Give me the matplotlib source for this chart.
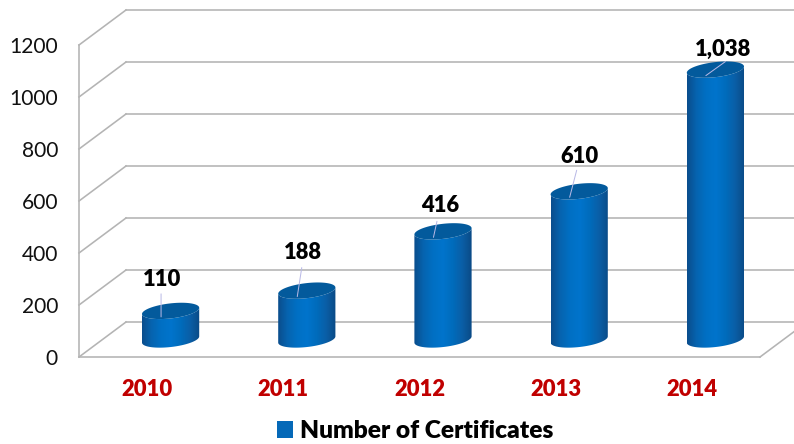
import numpy as np
import matplotlib
matplotlib.use('Agg')
import matplotlib.pyplot as plt
from matplotlib.patches import Patch, Polygon
from matplotlib.colors import LinearSegmentedColormap

# datos del grafico
years = ['2010', '2011', '2012', '2013', '2014']
# altura dibujada de cada cilindro (la de 2013 queda por debajo de su etiqueta en el original)
bar_heights = [110, 188, 416, 570, 1038]
value_labels = ['110', '188', '416', '610', '1,038']
y_ticks = [0, 200, 400, 600, 800, 1000, 1200]

# offsets a mano (px)
label_offsets = [(-8, 31), (-4, 38), (-3, 26), (0, 35), (8, 20)]
leader_ends = [(0, 23), (4.5, 29), (3.5, 16), (7, 27), (19.5, 14)]

plt.rcParams['font.family'] = ['Lato', 'DejaVu Sans']

# dpi 72: un punto = un pixel
W, H = 794, 444
fig = plt.figure(figsize=(W / 72, H / 72), dpi=72)
ax = fig.add_axes([79 / W, 1 - 357 / H, 681 / W, 312 / H])
ax.set_xlim(-0.5, 4.5)
ax.set_ylim(0, 1200)

# profundidad de la caja 3D en unidades de datos
depth_x = 47 / 136.2
depth_y = 35 / 0.26
half_w = 0.21      # medio ancho del cilindro
ell_b = 29         # semieje vertical de la elipse
ell_s = 12         # inclinacion de la elipse

grid_color = '#b4b4b4'
for v in y_ticks:
    ax.plot([-0.5, -0.5 + depth_x], [v, v + depth_y], color=grid_color, lw=1.6, clip_on=False, zorder=1)
    ax.plot([-0.5 + depth_x, 4.5 + depth_x], [v + depth_y, v + depth_y], color=grid_color, lw=1.6, clip_on=False, zorder=1)
# pared izquierda y suelo
ax.plot([-0.5, -0.5], [0, 1200], color=grid_color, lw=1.6, clip_on=False, zorder=1)
ax.plot([-0.5, 4.5], [0, 0], color=grid_color, lw=1.6, clip_on=False, zorder=1)
ax.plot([4.5, 4.5 + depth_x], [0, depth_y], color=grid_color, lw=1.6, clip_on=False, zorder=1)

body_cmap = LinearSegmentedColormap.from_list('body', ['#0a4d8c', '#0664b0', '#0070c4', '#0074cc', '#006cbc', '#0a5ea6', '#0a4a85'])
grad = np.linspace(0, 1, 256).reshape(1, -1)
t = np.linspace(0, 2 * np.pi, 121)

for i, val in enumerate(bar_heights):
    cx = i + depth_x / 2
    base = depth_y / 2
    top = val + depth_y / 2
    ex = half_w * np.cos(t)
    ey = ell_b * np.sin(t) + ell_s * np.cos(t)

    # cuerpo: mitad inferior de la base + mitad inferior de la tapa
    low = t[60:121]
    bx = cx + half_w * np.cos(low)
    by = base + ell_b * np.sin(low) + ell_s * np.cos(low)
    up = t[60:121][::-1]
    tx = cx + half_w * np.cos(up)
    ty = top + ell_b * np.sin(up) + ell_s * np.cos(up)
    outline = np.column_stack([np.r_[bx, tx], np.r_[by, ty]])
    poly = Polygon(outline, closed=True, facecolor='none', edgecolor='none', zorder=3)
    ax.add_patch(poly)
    im = ax.imshow(grad, cmap=body_cmap, aspect='auto', zorder=3,
                   extent=[cx - half_w, cx + half_w, base - 60, top + 60])
    im.set_clip_path(poly)

    # tapa
    ax.fill(cx + ex, top + ey, color='#035a9c', lw=0, zorder=4)

    # linea guia y etiqueta
    ax.annotate('', xy=(cx - 0.07, top - 23), xycoords='data',
                xytext=leader_ends[i], textcoords='offset points',
                arrowprops=dict(arrowstyle='-', color='#b9b9e6', lw=1, shrinkA=0, shrinkB=0), zorder=5)
    ax.annotate(value_labels[i], xy=(cx, top), xytext=label_offsets[i],
                textcoords='offset points', ha='center', va='center',
                fontsize=22, fontweight='heavy', color='black', zorder=6)

ax.set_xlim(-0.5, 4.5)
ax.set_ylim(0, 1200)
ax.patch.set_visible(False)
for s in ax.spines.values():
    s.set_visible(False)

ax.set_xticks(range(len(years)))
ax.set_xticklabels(years, fontsize=22, fontweight='heavy', color='#c00000')
ax.set_yticks(y_ticks)
ax.tick_params(axis='x', length=0, pad=22)
ax.tick_params(axis='y', length=0, pad=21, labelsize=21, labelcolor='#111111')

handle = Patch(facecolor='#0569b8', edgecolor='none')
fig.legend([handle], ['Number of Certificates'], loc='center', bbox_to_anchor=(415 / W, 1 - 431 / H),
           frameon=False, handlelength=0.65, handleheight=0.65, handletextpad=0.3,
           prop={'size': 24.5, 'weight': 'heavy'})

fig.savefig('out.png', dpi=72, facecolor='white')
